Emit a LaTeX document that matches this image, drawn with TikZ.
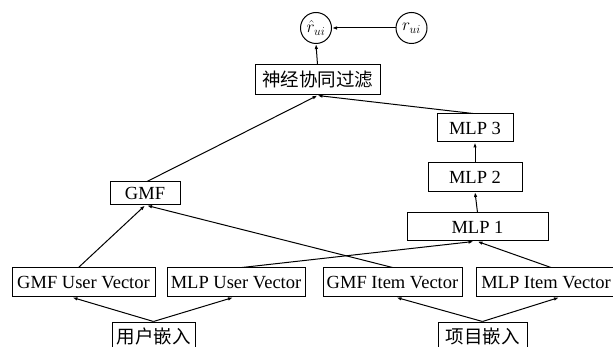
\documentclass[tikz,border=0pt]{standalone}
\usepackage{fontspec}
\setmainfont{Liberation Serif}
\newfontfamily\cjk{Noto Sans CJK SC}
\usetikzlibrary{arrows.meta}

\begin{document}
\begin{tikzpicture}[x=1pt, y=-1pt, line width=1pt,
	box_node/.style={rectangle, draw, inner sep=0pt, font=\fontsize{18.5}{20}\selectfont},
	circ_node/.style={circle, draw, minimum size=31pt, inner sep=0pt, font=\fontsize{17}{18}\selectfont},
	arr/.style={-{Latex[length=5pt, width=3.5pt]}}]

	\useasboundingbox (0,0) rectangle (613,347);

	\node[circ_node] (rhat) at (316, 28) {$\hat{r}_{ui}$};
	\node[circ_node] (rui) at (411.5, 28) {$r_{ui}$};

	\node[box_node, minimum width=125pt, minimum height=30pt] (ncf) at (317.5, 80) {\cjk 神经协同过滤};
	\node[box_node, minimum width=70pt, minimum height=23pt] (gmf) at (145, 193.5) {GMF};
	\node[box_node, minimum width=76pt, minimum height=28pt] (mlp3) at (475, 128) {MLP 3};
	\node[box_node, minimum width=94pt, minimum height=29pt] (mlp2) at (475, 177) {MLP 2};
	\node[box_node, minimum width=141pt, minimum height=28pt] (mlp1) at (477.5, 227) {MLP 1};

	\node[box_node, minimum width=143pt, minimum height=29pt] (guv) at (83.5, 282.5) {GMF User Vector};
	\node[box_node, minimum width=138pt, minimum height=29pt] (muv) at (236, 282.5) {MLP User Vector};
	\node[box_node, minimum width=139pt, minimum height=29pt] (giv) at (392.5, 282.5) {GMF Item Vector};
	\node[box_node, minimum width=140pt, minimum height=29pt] (miv) at (546, 282.5) {MLP Item Vector};

	\node[box_node, minimum width=83pt, minimum height=28pt] (ue) at (153.5, 336) {\cjk 用户嵌入};
	\node[box_node, minimum width=89pt, minimum height=28pt] (ie) at (482.5, 336) {\cjk 项目嵌入};

	% embeddings to vectors
	\draw[arr] (ue.north) -- ([xshift=-11pt]guv.south);
	\draw[arr] (ue.north) -- ([xshift=-3pt]muv.south);
	\draw[arr] (ie.north) -- ([xshift=4pt]giv.south);
	\draw[arr] (ie.north) -- ([xshift=13pt]miv.south);

	% vectors to GMF and MLP
	\draw[arr] ([xshift=-5pt]guv.north) -- (gmf.south);
	\draw[arr] (giv.north) -- ([xshift=2pt]gmf.south);
	\draw[arr] ([xshift=6pt]muv.north) -- ([xshift=-4pt]mlp1.south);
	\draw[arr] ([xshift=5pt]miv.north) -- (mlp1.south);
	\draw[arr] (mlp1.north) -- (mlp2.south);
	\draw[arr] (mlp2.north) -- (mlp3.south);

	% to output
	\draw[arr] ([xshift=2pt]gmf.north) -- (ncf.south);
	\draw[arr] ([xshift=-2pt]mlp3.north) -- (ncf.south);
	\draw[arr] (ncf.north) -- (rhat.south);
	\draw[arr] (rui.west) -- (rhat.east);
\end{tikzpicture}
\end{document}
